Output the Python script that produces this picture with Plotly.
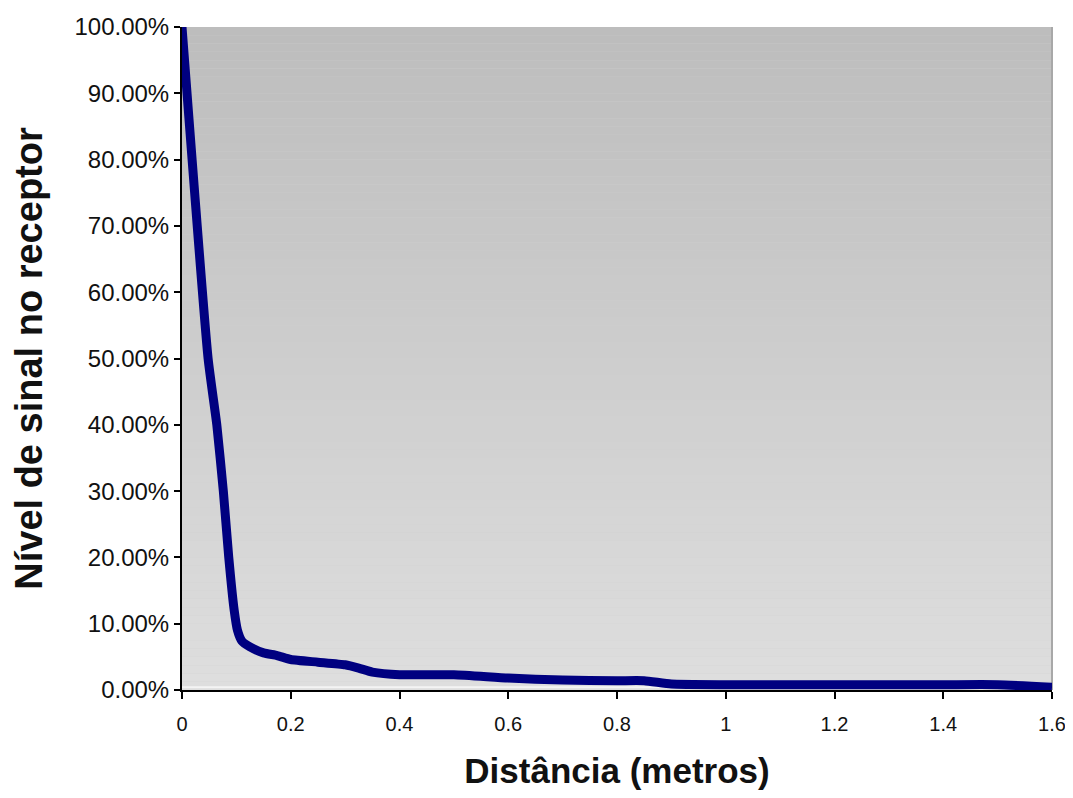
import plotly.graph_objects as go

distance_m = [0, 0.048, 0.064, 0.076, 0.086, 0.096, 0.102, 0.11, 0.125, 0.15, 0.175, 0.2,
              0.25, 0.3, 0.325, 0.35, 0.4, 0.5, 0.6, 0.7, 0.8, 0.85, 0.9, 1.0, 1.2, 1.4, 1.5, 1.6]
signal_pct = [100, 50, 40, 30, 20, 12, 9, 7.4, 6.5, 5.6, 5.2, 4.6,
              4.2, 3.8, 3.3, 2.7, 2.3, 2.3, 1.8, 1.5, 1.4, 1.4, 0.9, 0.8, 0.8, 0.8, 0.8, 0.4]
signal_frac = [v / 100 for v in signal_pct]

x_ticks = [0, 0.2, 0.4, 0.6, 0.8, 1.0, 1.2, 1.4, 1.6]
y_ticks = [i / 10 for i in range(11)]

fig = go.Figure()
fig.add_trace(go.Scatter(
    x=distance_m, y=signal_frac, mode="lines",
    line=dict(color="#000080", width=9, shape="spline", smoothing=0.5),
    cliponaxis=False, showlegend=False,
))

# gradient background (top darker -> bottom lighter)
n = 80
top = (189, 189, 189)
bot = (222, 222, 222)
shapes = []
for i in range(n):
    t = i / (n - 1)
    c = tuple(int(round(top[k] + (bot[k] - top[k]) * t)) for k in range(3))
    shapes.append(dict(type="rect", xref="x domain", yref="y domain",
                       x0=0, x1=1, y0=1 - (i + 1) / n, y1=1 - i / n,
                       fillcolor="rgb(%d,%d,%d)" % c, line=dict(width=0), layer="below"))
shapes.append(dict(type="line", xref="x domain", yref="y domain", x0=1, x1=1, y0=0, y1=1,
                   line=dict(color="#a8a8a8", width=2), layer="below"))
shapes.append(dict(type="line", xref="x domain", yref="y domain", x0=0, x1=1, y0=0.004, y1=0.004,
                   line=dict(color="#f4f4f4", width=2), layer="below"))

fig.update_layout(
    width=1057, height=782,
    paper_bgcolor="white", plot_bgcolor="#d0d0d0",
    margin=dict(l=174, r=13, t=19, b=100, autoexpand=False),
    shapes=shapes,
    font=dict(family="Liberation Sans, Arial, sans-serif", color="#111111"),
)
fig.update_xaxes(
    range=[0, 1.6], tickvals=x_ticks, showgrid=False, zeroline=False,
    showline=True, linecolor="black", linewidth=2,
    ticks="outside", ticklen=7, tickcolor="black", tickwidth=2,
    tickfont=dict(size=20, color="#111111"), ticklabelstandoff=8,
    ticklabeloverflow="allow",
    title=dict(text="<b>Distância (metros)</b>", font=dict(size=35, color="#111111"), standoff=26),
)
fig.update_yaxes(
    range=[0, 1], tickvals=y_ticks, tickformat=".2%", showgrid=False, zeroline=False,
    showline=True, linecolor="black", linewidth=2,
    ticks="outside", ticklen=6, tickcolor="black", tickwidth=2,
    tickfont=dict(size=24, color="#111111"),
    title=dict(text="<b>Nível de sinal no receptor</b>", font=dict(size=38, color="#111111"), standoff=20),
)

fig.write_html("out.html")
